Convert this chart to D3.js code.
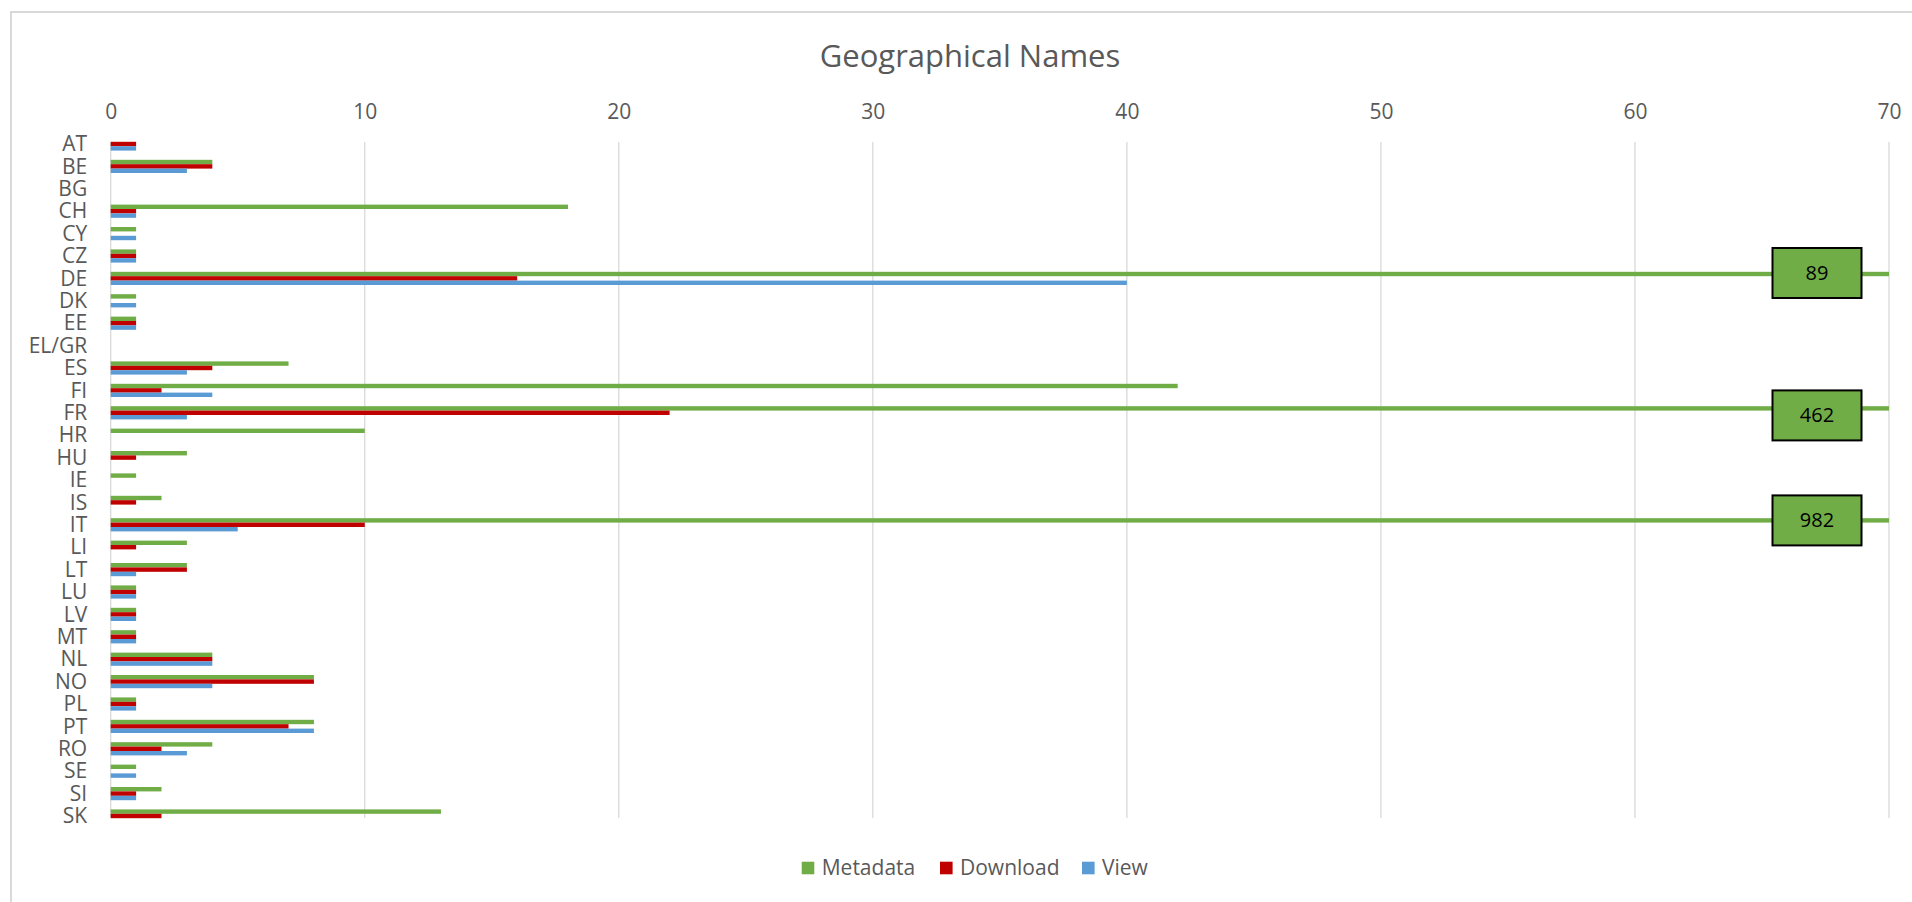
<!DOCTYPE html>
<html>
<head>
<meta charset="utf-8">
<script src="https://cdn.jsdelivr.net/npm/d3@7"></script>
<style>
  body { margin: 0; background: #fff; }
  text { font-family: "Open Sans", sans-serif; }
</style>
</head>
<body>
<svg id="chart" width="1912" height="902"></svg>
<script>
// data
const countries = ["AT","BE","BG","CH","CY","CZ","DE","DK","EE","EL/GR","ES","FI","FR","HR","HU","IE","IS","IT","LI","LT","LU","LV","MT","NL","NO","PL","PT","RO","SE","SI","SK"];
const metadata = [0,4,0,18,1,1,89,1,1,0,7,42,462,10,3,1,2,982,3,3,1,1,1,4,8,1,8,4,1,2,13];
const download = [1,4,0,1,0,1,16,0,1,0,4,2,22,0,1,0,1,10,1,3,1,1,1,4,8,1,7,2,0,1,2];
const view     = [1,3,0,1,1,1,40,1,1,0,3,4,3,0,0,0,0,5,0,1,1,1,1,4,4,1,8,3,1,1,0];
const seriesNames = ["Metadata", "Download", "View"];
const xTicks = [0, 10, 20, 30, 40, 50, 60, 70];

const colors = ["#70AD47", "#C00000", "#5B9BD5"];
const allSeries = [metadata, download, view];

const svg = d3.select("#chart");

// chart frame (only left and top edge visible)
svg.append("path")
    .attr("d", "M11,902 V12 H1912")
    .attr("fill", "none")
    .attr("stroke", "#D9D9D9")
    .attr("stroke-width", 2);

svg.append("text")
    .attr("x", 970)
    .attr("y", 67)
    .attr("text-anchor", "middle")
    .attr("font-size", 31)
    .attr("fill", "#595959")
    .text("Geographical Names");

const x = d3.scaleLinear().domain([0, 70]).range([110.7, 1889]).clamp(true);
const y = d3.scalePoint().domain(countries).range([144, 816]);

// gridlines
svg.append("g")
  .selectAll("line")
  .data(xTicks)
  .join("line")
    .attr("x1", d => x(d)).attr("x2", d => x(d))
    .attr("y1", 142).attr("y2", 818)
    .attr("stroke", "#D9D9D9")
    .attr("stroke-width", 1.3);

// value axis on top
const xAxis = svg.append("g")
    .attr("transform", "translate(0,122)")
    .call(d3.axisTop(x).tickValues(xTicks).tickSize(0).tickPadding(3));
xAxis.select(".domain").remove();
xAxis.selectAll("text")
    .attr("font-size", 21)
    .attr("fill", "#595959")
    .style("font-family", '"Open Sans", sans-serif');

// category axis
const yAxis = svg.append("g")
    .attr("transform", "translate(110.7,0)")
    .call(d3.axisLeft(y).tickSize(0).tickPadding(23.5));
yAxis.select(".domain").remove();
yAxis.selectAll("text")
    .attr("font-size", 21)
    .attr("fill", "#595959")
    .style("font-family", '"Open Sans", sans-serif');

// bars
const barH = 4.4;
const offsets = [-1.5, -0.5, 0.5];
allSeries.forEach((vals, s) => {
    svg.append("g")
      .selectAll("rect")
      .data(vals)
      .join("rect")
        .attr("x", x(0))
        .attr("y", (d, i) => y(countries[i]) + offsets[s] * barH)
        .attr("width", d => x(d) - x(0))
        .attr("height", barH)
        .attr("fill", colors[s]);
});

// value boxes for the metadata bars running off the axis
const big = metadata.map((v, i) => ({ v, c: countries[i] })).filter(d => d.v > 70);
const nudge = { "DE": -1, "FR": 7, "IT": 0 };
const boxW = 89, boxH = 50;
const lbl = svg.append("g")
  .selectAll("g")
  .data(big)
  .join("g")
    .attr("transform", d => `translate(${x(70) - 72},${y(d.c) - 1.5 * barH + barH / 2 + (nudge[d.c] || 0)})`);
lbl.append("rect")
    .attr("x", -boxW / 2).attr("y", -boxH / 2)
    .attr("width", boxW).attr("height", boxH)
    .attr("fill", colors[0])
    .attr("stroke", "#000")
    .attr("stroke-width", 2);
lbl.append("text")
    .attr("text-anchor", "middle")
    .attr("dy", "0.35em")
    .attr("font-size", 20)
    .attr("fill", "#000")
    .text(d => d.v);

// legend
const legX = [801.7, 940, 1082];
const leg = svg.append("g")
  .selectAll("g")
  .data(seriesNames)
  .join("g")
    .attr("transform", (d, i) => `translate(${legX[i]},868)`);
leg.append("rect")
    .attr("x", 0).attr("y", -6.3)
    .attr("width", 12.6).attr("height", 12.6)
    .attr("fill", (d, i) => colors[i]);
leg.append("text")
    .attr("x", 20)
    .attr("dy", "0.35em")
    .attr("font-size", 21)
    .attr("fill", "#595959")
    .text(d => d);
</script>
</body>
</html>
